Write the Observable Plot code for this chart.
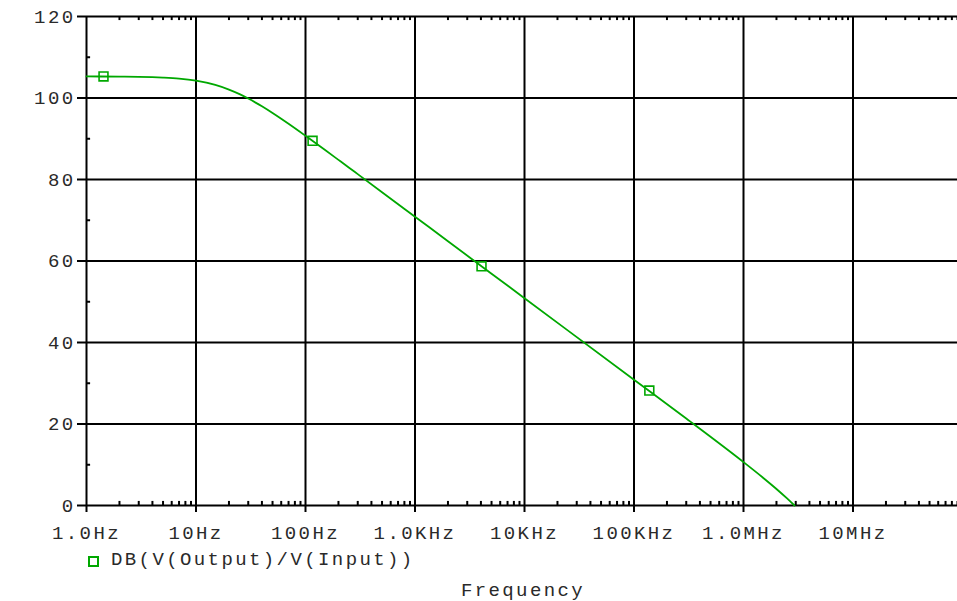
<!DOCTYPE html>
<html>
<head>
<meta charset="utf-8">
<script src="https://cdn.jsdelivr.net/npm/d3@7"></script>
<script src="https://cdn.jsdelivr.net/npm/@observablehq/plot@0.6"></script>
<style>
  html, body { margin: 0; padding: 0; background: #fff; }
  #wrap { position: relative; width: 957px; height: 601px; overflow: hidden; background: #fff; }
  #wrap svg text { letter-spacing: 2.4px; }
  .lab { position: absolute; font-family: "Courier New", "Liberation Mono", monospace; font-size: 19px;
         letter-spacing: 2.4px; color: #2a2a2a; white-space: nowrap; line-height: 19px; }
  .swatch { position: absolute; width: 7px; height: 7px; border: 2px solid #00a800; }
</style>
</head>
<body>
<div id="wrap"></div>
<script>
// Curve: frequency (Hz) and gain (dB)
const freqs  = [1, 2, 3, 4, 5, 7, 10, 15, 20, 25, 30, 35, 40, 50, 60, 70, 100, 150, 200, 250, 300, 500,
                1000, 2000, 5000, 10000, 100000, 300000, 1000000, 1500000, 2000000, 2500000, 2920000];
const gainDb = [105.3, 105.25, 105.2, 105.11, 105.0, 104.75, 104.24, 103.2, 102.06, 100.94, 99.87, 98.87, 97.95, 96.31, 94.9, 93.67, 90.72, 87.29, 84.82, 82.9, 81.32, 76.89,
                70.87, 64.85, 56.89, 50.87, 30.87, 21.34, 10.65, 6.87, 4.06, 1.73, 0.0];

// Square markers on the trace
const markerFreqs = [1.43, 116, 4050, 138000];
const markerDb    = [105.3, 89.5, 58.7, 28.2];

// Axes
const xDecades     = [1, 10, 100, 1000, 10000, 100000, 1000000, 10000000];
const xTickLabels  = ["1.0Hz", "10Hz", "100Hz", "1.0KHz", "10KHz", "100KHz", "1.0MHz", "10MHz"];
const xMinorSteps  = [2, 3, 4, 5, 6, 7, 8, 9];
const yTicks       = [0, 20, 40, 60, 80, 100, 120];
const yMinor       = [10, 30, 50, 70, 90, 110];
const seriesLabel  = "DB(V(Output)/V(Input))";
const xTitle       = "Frequency";

const traceColor = "#00a800";
const font = '"Courier New", "Liberation Mono", monospace';
const lw = 2;

const data = freqs.map((f, i) => ({f, db: gainDb[i]}));
const markers = markerFreqs.map((f, i) => ({f, db: markerDb[i]}));
const xMinor = xDecades.flatMap(d => xMinorSteps.map(s => d * s));

const plot = Plot.plot({
  width: 957,
  height: 601,
  marginLeft: 86,
  marginRight: 0,
  marginTop: 16,
  marginBottom: 96,
  x: {type: "log", domain: [1, 1e8], range: [86, 962]},
  y: {domain: [0, 120], range: [505, 16]},
  style: {fontFamily: font, fontSize: "19px", background: "#fff", color: "#000", overflow: "visible"},
  marks: [
    Plot.gridY(yTicks, {stroke: "#000", strokeOpacity: 1, strokeWidth: lw}),
    Plot.gridX(xDecades, {stroke: "#000", strokeOpacity: 1, strokeWidth: lw}),
    Plot.ruleX(xMinor, {y1: 0, y2: 1, stroke: "#000", strokeWidth: lw}),
    Plot.ruleX(xMinor, {y1: 120, y2: 119, stroke: "#000", strokeWidth: lw}),
    Plot.ruleY(yMinor, {x1: 1, x2: 1.09, stroke: "#000", strokeWidth: lw}),
    Plot.axisY(yTicks, {anchor: "left", tickSize: 9, tickPadding: 2, stroke: "#000", strokeWidth: lw,
                        fill: "#2a2a2a", label: null}),
    Plot.axisX(xDecades, {anchor: "bottom", tickSize: 7, tickPadding: 13, stroke: "#000", strokeWidth: lw,
                          fill: "#2a2a2a", label: null,
                          tickFormat: d => xTickLabels[xDecades.indexOf(d)]}),
    Plot.line(data, {x: "f", y: "db", stroke: traceColor, strokeWidth: 1.8, curve: "monotone-x"}),
    Plot.dot(markers, {x: "f", y: "db", symbol: "square", r: 5, stroke: traceColor, strokeWidth: 1.6, fill: "none"})
  ]
});

const wrap = document.getElementById("wrap");
wrap.appendChild(plot);

const sw = document.createElement("div");
sw.className = "swatch";
sw.style.left = "88px";
sw.style.top = "556px";
wrap.appendChild(sw);

const leg = document.createElement("div");
leg.className = "lab";
leg.textContent = seriesLabel;
leg.style.left = "111px";
leg.style.top = "551px";
wrap.appendChild(leg);

const xt = document.createElement("div");
xt.className = "lab";
xt.textContent = xTitle;
xt.style.left = "523px";
xt.style.top = "582px";
xt.style.transform = "translateX(-50%)";
wrap.appendChild(xt);
</script>
</body>
</html>
